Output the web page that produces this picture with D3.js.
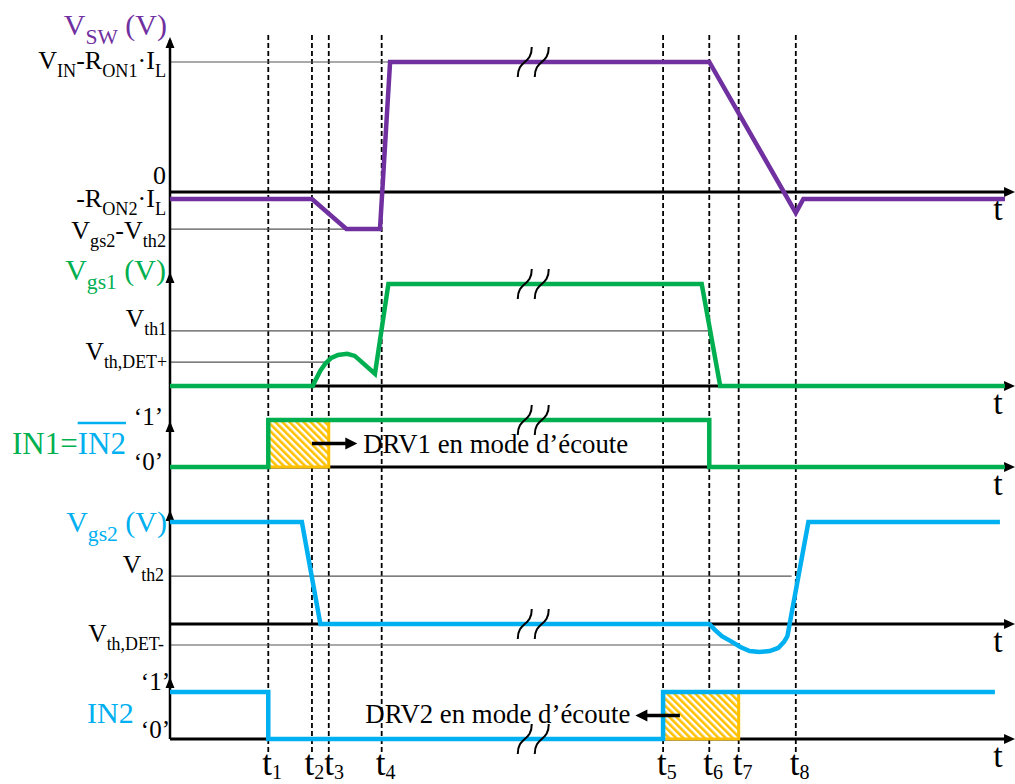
<!DOCTYPE html>
<html><head><meta charset="utf-8">
<script src="https://cdn.jsdelivr.net/npm/d3@7"></script>
<style>html,body{margin:0;padding:0;background:#fff;} text{white-space:pre;}</style>
</head><body>
<svg id="c" width="1015" height="784"></svg>
<script>
// ---------------- DATA ----------------
const tNames  = ["1","2","3","4","5","6","7","8"];
const tMarks  = [11.7, 16.9, 18.9, 25.2, 58.7, 64.2, 67.7, 74.5];

const vswT  = [0, 16.9, 21.0, 25.0, 26.2, 64.2, 74.5, 75.4, 99.4];
const vswV  = [-0.54, -0.54, -2.85, -2.85, 10, 10, -1.6, -0.54, -0.54];

const vgs1T = [0, 17.0, 17.4, 17.9, 18.5, 19.2, 20.0, 21.1, 22.0, 24.4, 26.0, 63.3, 65.5, 99.4];
const vgs1V = [0, 0, 0.7, 1.5, 2.2, 2.75, 3.05, 3.15, 2.95, 1.2, 10, 10, 0, 0];

const in1T  = [0, 11.7, 11.7, 64.2, 64.2, 99.4];
const in1V  = [0, 0, 1, 1, 0, 0];

const vgs2T = [0, 15.7, 17.9, 64.2, 64.9, 65.7, 66.7, 67.9, 69.0, 70.2, 71.4, 72.4, 73.1, 73.5, 76.0, 98.8];
const vgs2V = [10, 10, 0, 0, -0.6, -1.2, -1.65, -2.25, -2.65, -2.75, -2.65, -2.35, -1.75, -1.2, 10, 10];

const in2T  = [0, 11.7, 11.7, 58.7, 58.7, 98.2];
const in2V  = [1, 1, 0, 0, 1, 1];

// tick labels (markup: _{...} = subscript)
const vswTickLabels  = ["V_{IN}-R_{ON1}·I_{L}", "0", "-R_{ON2}·I_{L}", "V_{gs2}-V_{th2}"];
const vswTickValues  = [10, 0, -0.54, -2.85];
const vgs1TickLabels = ["V_{th1}", "V_{th,DET+}"];
const vgs1TickValues = [5.4, 2.35];
const vgs2TickLabels = ["V_{th2}", "V_{th,DET-}"];
const vgs2TickValues = [4.7, -2.06];
const logicLabels    = ["‘1’", "‘0’"];
const logicValues    = [1, 0];

// reference (threshold) lines: value and end time
const vswRefValues  = [10, -2.85];   const vswRefEnds  = [26.2, 21.0];
const vgs1RefValues = [5.4, 2.35];   const vgs1RefEnds = [64.5, 19.0];
const vgs2RefValues = [4.7, -2.06];  const vgs2RefEnds = [74.0, 67.5];

const hatchIn1 = [11.7, 18.9];
const hatchIn2 = [58.7, 67.7];
const breakT = 41.4;
const annot1 = "DRV1 en mode d’écoute";
const annot2 = "DRV2 en mode d’écoute";

// ---------------- LAYOUT ----------------
const FONT = '"Liberation Serif","Times New Roman",serif';
const PURPLE = "#7030A0", GREEN = "#00B050", BLUE = "#00B0F0", ORANGE = "#FFC000";
const svg = d3.select("#c");
const X = d3.scaleLinear().domain([0, 100]).range([170, 1010]);
const Yvsw  = d3.scaleLinear().domain([0, 10]).range([192, 62]);
const Yvgs1 = d3.scaleLinear().domain([0, 10]).range([386, 284]);
const Yin1  = d3.scaleLinear().domain([0, 1]).range([467, 420]);
const Yvgs2 = d3.scaleLinear().domain([0, 10]).range([624, 522]);
const Yin2  = d3.scaleLinear().domain([0, 1]).range([739, 692]);

// hatch pattern
const defs = svg.append("defs");
const pat = defs.append("pattern").attr("id", "hatch").attr("patternUnits", "userSpaceOnUse")
  .attr("width", 5).attr("height", 5).attr("patternTransform", "rotate(-45)");
pat.append("rect").attr("width", 5).attr("height", 5).attr("fill", "#fff");
pat.append("rect").attr("width", 2.6).attr("height", 5).attr("fill", ORANGE);

function rich(g, x, y, str, size, anchor, color, subScale) {
  const ss = subScale || 0.7;
  const t = g.append("text").attr("x", x).attr("y", y).attr("font-family", FONT)
    .attr("font-size", size).attr("text-anchor", anchor).attr("fill", color);
  const parts = str.split(/(_\{[^}]*\})/);
  let shifted = false;
  parts.forEach(p => {
    if (!p) return;
    if (p.startsWith("_{")) {
      t.append("tspan").attr("font-size", size * ss).attr("dy", size * 0.3).text(p.slice(2, -1));
      shifted = true;
    } else {
      t.append("tspan").attr("dy", shifted ? -size * 0.3 : 0).text(p);
      shifted = false;
    }
  });
  return t;
}

// dashed time markers
svg.append("g").selectAll("line").data(tMarks).join("line")
  .attr("x1", d => X(d)).attr("x2", d => X(d)).attr("y1", 35).attr("y2", 752)
  .attr("stroke", "#000").attr("stroke-width", 1.8).attr("stroke-dasharray", "5,3");

// reference lines
function refs(Y, vals, ends) {
  svg.append("g").selectAll("line").data(vals).join("line")
    .attr("x1", X(0)).attr("x2", (d, i) => X(ends[i]))
    .attr("y1", d => Y(d)).attr("y2", d => Y(d))
    .attr("stroke", "#555").attr("stroke-width", 1.2);
}
refs(Yvsw, vswRefValues, vswRefEnds);
refs(Yvgs1, vgs1RefValues, vgs1RefEnds);
refs(Yvgs2, vgs2RefValues, vgs2RefEnds);

// axes
const axG = svg.append("g");
axG.append("line").attr("x1", X(0)).attr("x2", X(0)).attr("y1", 40).attr("y2", Yin2(0))
  .attr("stroke", "#000").attr("stroke-width", 2.5);
[[Yvsw, 37], [Yvgs1, 272], [Yin1, 421], [Yvgs2, 510], [Yin2, 677]].forEach(([Y, top]) => {
  const x0 = X(0);
  axG.append("path").attr("d", `M${x0},${top} L${x0 - 4.5},${top + 11} L${x0 + 4.5},${top + 11} Z`).attr("fill", "#000");
  const y0 = Y(0);
  axG.append("line").attr("x1", x0).attr("x2", X(99.8)).attr("y1", y0).attr("y2", y0)
    .attr("stroke", "#000").attr("stroke-width", 3);
  const xe = X(100.6);
  axG.append("path").attr("d", `M${xe},${y0} L${xe - 11},${y0 - 5} L${xe - 11},${y0 + 5} Z`).attr("fill", "#000");
  axG.append("text").attr("x", 998).attr("y", y0 + 28).attr("text-anchor", "middle")
    .attr("font-family", FONT).attr("font-size", 34).text("t");
});

// hatched rectangles
function hatch(Y, span) {
  svg.append("rect").attr("x", X(span[0])).attr("y", Y(1)).attr("width", X(span[1]) - X(span[0]))
    .attr("height", Y(0) - Y(1)).attr("fill", "url(#hatch)").attr("stroke", ORANGE).attr("stroke-width", 3);
}
hatch(Yin1, hatchIn1);
hatch(Yin2, hatchIn2);

// signals
function sig(T, V, Y, color) {
  const line = d3.line().x(d => X(d[0])).y(d => Y(d[1]));
  svg.append("path").attr("d", line(T.map((t, i) => [t, V[i]])))
    .attr("fill", "none").attr("stroke", color).attr("stroke-width", 4.5).attr("stroke-linejoin", "miter");
}
sig(vswT, vswV, Yvsw, PURPLE);
sig(vgs1T, vgs1V, Yvgs1, GREEN);
sig(in1T, in1V, Yin1, GREEN);
sig(vgs2T, vgs2V, Yvgs2, BLUE);
sig(in2T, in2V, Yin2, BLUE);

// break marks
[[Yvsw, 10], [Yvgs1, 10], [Yin1, 1], [Yvgs2, 0], [Yin2, 0]].forEach(([Y, v]) => {
  const cy = Y(v);
  [0, 17].forEach(dx => {
    const x0 = X(breakT) + dx;
    svg.append("path").attr("d", `M${x0},${cy + 15} C${x0},${cy - 3} ${x0 + 14},${cy + 3} ${x0 + 14},${cy - 15}`)
      .attr("fill", "none").attr("stroke", "#000").attr("stroke-width", 2);
  });
});

// annotations
function arrow(xa, xb, y) {
  const dir = Math.sign(xb - xa);
  svg.append("line").attr("x1", xa).attr("x2", xb - dir * 9).attr("y1", y).attr("y2", y)
    .attr("stroke", "#000").attr("stroke-width", 3.5);
  svg.append("path").attr("d", `M${xb},${y} L${xb - dir * 12},${y - 6} L${xb - dir * 12},${y + 6} Z`).attr("fill", "#000");
}
arrow(X(tMarks[1]), X(22.3), Yin1(0.5));
svg.append("text").attr("x", X(23.0)).attr("y", Yin1(0.3)).attr("font-family", FONT).attr("font-size", 26.8).text(annot1);
arrow(X(60.7), X(55.4), Yin2(0.5));
svg.append("text").attr("x", X(54.8)).attr("y", Yin2(0.33)).attr("text-anchor", "end").attr("font-family", FONT).attr("font-size", 26.8).text(annot2);

// left labels
const L = svg.append("g");
rich(L, 167, 35, "V_{SW} (V)", 30, "end", PURPLE, 0.72);
rich(L, 166, 280, "V_{gs1} (V)", 30, "end", GREEN, 0.72);
rich(L, 167, 532, "V_{gs2} (V)", 30, "end", BLUE, 0.72);

const vswDy = [7, -8, 8, 10];
vswTickLabels.forEach((s, i) => rich(L, 166, Yvsw(vswTickValues[i]) + vswDy[i], s, 26, "end", "#000"));
const vgs1Dy = [-4, -2];
vgs1TickLabels.forEach((s, i) => rich(L, 167, Yvgs1(vgs1TickValues[i]) + vgs1Dy[i], s, 25.5, "end", "#000"));
const vgs2Dy = [-3, -3];
vgs2TickLabels.forEach((s, i) => rich(L, 164, Yvgs2(vgs2TickValues[i]) + vgs2Dy[i], s, 25.5, "end", "#000"));

const in1Dy = [5, 3];
logicLabels.forEach((s, i) => L.append("text").attr("x", 163).attr("y", Yin1(logicValues[i]) + in1Dy[i])
  .attr("text-anchor", "end").attr("font-family", FONT).attr("font-size", 25).text(s));
const in2Dy = [-2, -1];
logicLabels.forEach((s, i) => L.append("text").attr("x", 170).attr("y", Yin2(logicValues[i]) + in2Dy[i])
  .attr("text-anchor", "end").attr("font-family", FONT).attr("font-size", 25).text(s));

// IN1 = overline IN2
const t1 = L.append("text").attr("x", 12).attr("y", 454).attr("font-family", FONT).attr("font-size", 31).attr("fill", GREEN).text("IN1=");
const w1 = t1.node().getComputedTextLength();
const t2 = L.append("text").attr("x", 12 + w1).attr("y", 454).attr("font-family", FONT).attr("font-size", 31).attr("fill", BLUE).text("IN2");
const w2 = t2.node().getComputedTextLength();
L.append("line").attr("x1", 12 + w1).attr("x2", 12 + w1 + w2).attr("y1", 423).attr("y2", 423).attr("stroke", BLUE).attr("stroke-width", 2.5);
L.append("text").attr("x", 87).attr("y", 723).attr("font-family", FONT).attr("font-size", 30).attr("fill", BLUE).text("IN2");

// bottom time labels
const tLabelDx = [-6, -7.5, -4.5, -6, -6, -6, -6, -6];
tMarks.forEach((t, i) => {
  const g = svg.append("text").attr("x", X(t) + tLabelDx[i]).attr("y", 775).attr("font-family", FONT).attr("font-size", 35);
  g.append("tspan").text("t");
  g.append("tspan").attr("font-size", 20).attr("dy", 4).text(tNames[i]);
});
</script>
</body></html>
